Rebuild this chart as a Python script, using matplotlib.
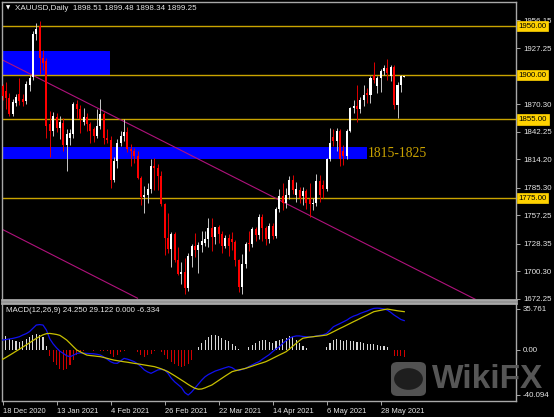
import matplotlib
matplotlib.use("Agg")
import matplotlib.pyplot as plt
import matplotlib.transforms as mtrans
from matplotlib.patches import Rectangle, FancyBboxPatch, Circle

# ---------------- data ----------------
opens = [1889, 1884, 1877, 1861, 1872, 1881, 1876, 1874, 1890, 1898,
         1942, 1950, 1918, 1914, 1850, 1843, 1857, 1846, 1851, 1829,
         1836, 1840, 1871, 1866, 1852, 1857, 1850, 1845, 1838, 1848,
         1860, 1836, 1834, 1793, 1813, 1831, 1838, 1842, 1825, 1823,
         1818, 1795, 1776, 1778, 1784, 1808, 1806, 1797, 1769, 1734,
         1723, 1738, 1712, 1698, 1700, 1683, 1716, 1726, 1722, 1727,
         1729, 1733, 1744, 1735, 1745, 1738, 1726, 1734, 1733, 1730,
         1712, 1684, 1708, 1729, 1728, 1743, 1737, 1756, 1744, 1733,
         1747, 1736, 1764, 1777, 1770, 1778, 1793, 1778, 1783, 1777,
         1782, 1774, 1769, 1770, 1792, 1788, 1784, 1815, 1837, 1833,
         1843, 1823, 1818, 1843, 1867, 1869, 1866, 1875, 1882, 1880,
         1900, 1889, 1897, 1904, 1907, 1899, 1908, 1870, 1890, 1898.51]
highs = [1891, 1893, 1882, 1876, 1881, 1897, 1881, 1894, 1900, 1945,
         1953, 1955, 1926, 1917, 1864, 1863, 1862, 1858, 1856, 1845,
         1845, 1873, 1875, 1870, 1867, 1862, 1852, 1847, 1866, 1876,
         1863, 1845, 1838, 1817, 1835, 1843, 1855, 1847, 1830, 1826,
         1823, 1797, 1787, 1790, 1815, 1816, 1810, 1802, 1770, 1760,
         1740, 1740, 1725, 1710, 1714, 1719, 1728, 1739, 1730, 1741,
         1741, 1755, 1755, 1746, 1748, 1741, 1737, 1738, 1740, 1732,
         1713, 1718, 1730, 1741, 1745, 1745, 1759, 1759, 1747, 1750,
         1750, 1766, 1784, 1790, 1785, 1797, 1798, 1791, 1786, 1786,
         1784, 1790, 1775, 1799, 1798, 1793, 1816, 1846, 1845, 1846,
         1845, 1829, 1845, 1868, 1875, 1890, 1878, 1890, 1887, 1899,
         1913, 1899, 1906, 1910, 1916, 1910, 1910, 1893, 1900, 1899.48]
lows = [1875, 1866, 1858, 1858, 1869, 1870, 1869, 1871, 1884, 1895,
        1936, 1901, 1905, 1836, 1817, 1838, 1842, 1835, 1823, 1803,
        1829, 1836, 1856, 1841, 1849, 1843, 1831, 1832, 1836, 1845,
        1830, 1831, 1785, 1791, 1806, 1828, 1833, 1822, 1808, 1811,
        1794, 1768, 1760, 1770, 1780, 1783, 1783, 1767, 1717, 1719,
        1705, 1710, 1697, 1687, 1677, 1680, 1705, 1715, 1699, 1720,
        1726, 1725, 1721, 1728, 1729, 1719, 1724, 1716, 1722, 1706,
        1679, 1677, 1704, 1721, 1725, 1731, 1733, 1731, 1727, 1729,
        1733, 1734, 1761, 1763, 1765, 1774, 1779, 1771, 1770, 1768,
        1764, 1756, 1763, 1767, 1771, 1775, 1782, 1813, 1828, 1823,
        1808, 1809, 1815, 1842, 1862, 1852, 1862, 1869, 1872, 1872,
        1892, 1882, 1883, 1900, 1895, 1894, 1866, 1856, 1883, 1898.34]
closes = [1879, 1877, 1861, 1873, 1878, 1874, 1873, 1891, 1897, 1942,
          1947, 1918, 1912, 1848, 1843, 1858, 1846, 1852, 1829, 1840,
          1841, 1871, 1866, 1855, 1857, 1850, 1843, 1838, 1848, 1860,
          1836, 1834, 1793, 1813, 1831, 1838, 1842, 1825, 1823, 1818,
          1795, 1776, 1778, 1784, 1808, 1806, 1797, 1769, 1734, 1723,
          1738, 1712, 1698, 1700, 1683, 1716, 1726, 1722, 1727, 1731,
          1733, 1744, 1735, 1745, 1738, 1726, 1734, 1726, 1730, 1712,
          1684, 1708, 1728, 1728, 1743, 1737, 1756, 1744, 1733, 1747,
          1736, 1764, 1777, 1770, 1778, 1793, 1783, 1784, 1775, 1782,
          1770, 1769, 1770, 1792, 1778, 1784, 1815, 1831, 1833, 1843,
          1815, 1818, 1843, 1867, 1869, 1866, 1875, 1880, 1880, 1897,
          1895, 1897, 1904, 1907, 1902, 1908, 1870, 1890, 1899, 1899.25]

macd_main = [8.4, 8.8, 9.3, 9.8, 10.5, 11.3, 12.8, 14.0, 15.8, 18.7,
             21.6, 22.0, 21.6, 17.2, 9.5, 5.0, 1.5, -1.5, -3.4, -5.5,
             -6.3, -5.0, -3.4, -3.0, -3.2, -3.4, -3.6, -3.8, -4.2, -4.9,
             -6.5, -8.5, -10.7, -12.0, -12.2, -10.0, -7.8, -8.5, -9.5, -10.7,
             -12.5, -15.0, -18.0, -19.8, -21.0, -19.5, -18.0, -17.5, -18.0, -21.0,
             -25.3, -28.5, -31.0, -33.5, -38.0, -40.1, -37.5, -34.0, -30.5, -27.0,
             -24.0, -22.0, -20.5, -19.0, -18.0, -17.0, -16.0, -15.1, -16.0, -18.0,
             -18.5, -17.5, -16.6, -15.0, -13.5, -12.0, -10.7, -8.5, -6.5, -4.5,
             -1.9, 0.5, 2.5, 5.4, 7.8, 10.0, 11.3, 12.0, 12.0, 11.5,
             11.3, 11.0, 11.3, 12.0, 12.5, 13.0, 14.2, 17.0, 20.1, 21.6,
             23.0, 24.5, 26.0, 28.0, 29.5, 30.5, 31.9, 33.0, 34.0, 35.3,
             36.3, 36.5, 36.3, 35.8, 34.8, 32.8, 30.4, 28.5, 26.5, 25.5]
macd_signal = [-8.7, -7.0, -5.2, -3.4, -1.5, 0.3, 2.2, 4.0, 5.9, 7.9,
               9.8, 11.5, 13.0, 14.0, 14.2, 13.8, 13.3, 12.5, 10.5, 8.4,
               5.5, 2.5, -0.4, -2.0, -3.5, -4.9, -5.3, -5.6, -6.0, -6.3,
               -7.0, -7.8, -8.6, -9.3, -9.8, -10.3, -10.8, -11.2, -11.7, -12.2,
               -12.6, -13.1, -13.6, -14.1, -14.6, -15.1, -16.0, -17.0, -18.2, -19.5,
               -21.3, -23.1, -25.0, -26.9, -28.8, -30.8, -32.6, -34.2, -35.0, -34.8,
               -33.8, -32.5, -31.3, -29.3, -27.3, -25.3, -23.3, -21.4, -19.5, -18.7,
               -18.0, -17.3, -16.6, -15.6, -14.6, -13.6, -12.6, -11.7, -10.7, -9.3,
               -7.8, -6.3, -4.8, -3.4, -1.9, 0.5, 3.0, 5.5, 8.0, 10.0,
               10.5, 11.0, 11.3, 11.7, 12.0, 12.4, 12.8, 14.2, 15.7, 17.2,
               18.7, 20.1, 21.6, 23.1, 24.6, 26.0, 27.5, 29.0, 30.4, 31.9,
               33.4, 34.0, 34.6, 35.2, 35.7, 35.2, 34.7, 34.2, 33.8, 33.4]
macd_hist = [11.8, 11.8, 9.7, 8.8, 7.6, 6.8, 7.6, 9.7, 11.2, 12.6,
             14.0, 12.6, 11.2, 3.0, -6.0, -11.0, -14.0, -17.0, -18.0, -17.0,
             -14.0, -9.4, -5.0, -2.0, -1.0, -0.3, 0.0, -1.0, -0.5, -1.0,
             -1.0, -1.0, -3.5, -6.5, -5.0, -2.0, -1.0, -0.3, 0.0, 0.0,
             -2.0, -5.0, -6.5, -5.0, -3.5, -1.0, 0.0, -2.0, -5.0, -8.0,
             -11.0, -12.4, -14.7, -15.3, -14.7, -12.4, -8.8, 0.0, 2.4, 5.9,
             8.2, 11.2, 12.4, 12.6, 12.0, 10.6, 8.8, 7.6, 5.3, 2.9,
             0.9, -0.5, -0.8, 1.8, 3.8, 5.9, 7.6, 8.8, 8.2, 6.8,
             5.9, 7.6, 8.8, 9.7, 10.6, 11.8, 11.2, 8.8, 5.9, 2.9,
             1.2, 0.0, -0.5, 0.0, 0.0, -0.5, 2.4, 5.9, 8.2, 9.7,
             8.2, 7.6, 8.2, 7.6, 7.6, 7.0, 6.5, 5.9, 5.3, 5.3,
             4.7, 4.1, 3.5, 2.9, 1.8, 0.0, -5.9, -5.9, -5.9, -6.334]

date_labels = ["18 Dec 2020", "13 Jan 2021", "4 Feb 2021", "26 Feb 2021",
               "22 Mar 2021", "14 Apr 2021", "6 May 2021", "28 May 2021"]
date_label_idx = [0, 16, 32, 48, 64, 80, 96, 112]

level_prices = [1950.00, 1900.00, 1855.00, 1775.00]
zone_low = [1900.0, 1814.5]
zone_high = [1924.5, 1827.0]
zone_end_idx = [31.9, 108.0]
zone_text = "1815-1825"

upper_line_idx = [0, 140]
upper_line_price = [1915.5, 1672.0]
lower_line_idx = [0, 40]
lower_line_price = [1743.0, 1673.0]

price_ticks = [1956.15, 1927.25, 1870.30, 1842.25, 1814.20, 1785.30,
               1757.25, 1728.35, 1700.30, 1672.25]
macd_ticks = [35.761, 0.0, -40.094]
macd_tick_labels = ["35.761", "0.00", "-40.094"]

title_text = "XAUUSD,Daily  1898.51 1899.48 1898.34 1899.25"
macd_text = "MACD(12,26,9) 24.250 29.122 0.000 -6.334"

# ---------------- figure ----------------
W, H = 554, 417
fig = plt.figure(figsize=(W / 100, H / 100), dpi=100, facecolor="black")
FONT = "Liberation Sans"
GRAY = "#A8A8A8"
TXT = "#E6E6E6"

def fx(px):
    return px / W

def fy(py):
    return 1 - py / H

ax = fig.add_axes([fx(2), fy(300), fx(516 - 2), fy(2) - fy(300)], facecolor="black")
ax2 = fig.add_axes([fx(2), fy(401), fx(516 - 2), fy(303) - fy(401)], facecolor="black")

n = len(closes)
idx = list(range(n))
xlim = (-0.15, 152.1)

# zones (behind candles)
for lo, hi, xe in zip(zone_low, zone_high, zone_end_idx):
    ax.add_patch(Rectangle((xlim[0] - 1, lo), xe - xlim[0] + 1, hi - lo,
                           facecolor="#0000FF", edgecolor="none", zorder=1))
ax.text(zone_end_idx[1] + 0.3, (zone_low[1] + zone_high[1]) / 2, zone_text,
        color="#C9A200", fontsize=9.8, family="Liberation Serif",
        va="center", ha="left", zorder=6)

# horizontal levels
for lv in level_prices:
    ax.axhline(lv, color="#C9A400", lw=1.0, zorder=2)

# channel lines
ax.plot(upper_line_idx, upper_line_price, color="#B0127C", lw=0.8, zorder=2)
ax.plot(lower_line_idx, lower_line_price, color="#B0127C", lw=0.8, zorder=2)

# candles
for i in idx:
    o, h, l, c = opens[i], highs[i], lows[i], closes[i]
    up = c >= o
    col = "#FFFFFF" if up else "#FF0000"
    wcol = "#C8C8C8" if up else "#E00000"
    ax.vlines(i, l, h, color=wcol, lw=0.7, zorder=3)
    bh = max(abs(c - o), 0.9)
    ax.bar(i, bh, bottom=min(o, c), width=0.6, color=col, linewidth=0, zorder=4)

ax.set_xlim(*xlim)
ax.set_ylim(1671.2, 1974.5)

# MACD
hcols = ["#D8D8D8" if v >= 0 else "#D00000" for v in macd_hist]
ax2.bar(idx, macd_hist, width=0.32, color=hcols, linewidth=0, zorder=2)
ax2.plot(idx, macd_main, color="#1010F0", lw=0.9, zorder=3)
ax2.plot(idx, macd_signal, color="#C8C000", lw=0.9, zorder=3)
ax2.set_xlim(*xlim)
ax2.set_ylim(-45.4, 41.05)

# spines / ticks
for a in (ax, ax2):
    for s in a.spines.values():
        s.set_color(GRAY)
        s.set_linewidth(1.0)
    a.yaxis.tick_right()
    a.tick_params(axis="y", colors=GRAY, length=3, width=0.7, pad=2,
                  labelsize=5.7, labelcolor=TXT)
    for t in a.get_yticklabels():
        t.set_family(FONT)
ax.spines["bottom"].set_linewidth(2.0)
ax2.spines["top"].set_linewidth(2.0)

ax.set_xticks([])
ax.set_yticks(price_ticks)
ax.set_yticklabels([f"{p:.2f}" for p in price_ticks], family=FONT)

ax2.set_yticks(macd_ticks)
ax2.set_yticklabels(macd_tick_labels, family=FONT)
ax2.set_xticks(date_label_idx)
ax2.set_xticklabels(date_labels, ha="left", family=FONT)
ax2.tick_params(axis="x", colors=GRAY, length=3, width=0.7, pad=2,
                labelsize=5.4, labelcolor=TXT)

# highlighted level labels
btr = mtrans.blended_transform_factory(ax.transAxes, ax.transData)
for lv in level_prices:
    ax.text(1.0 + 2.5 / 514, lv, f"{lv:.2f}", transform=btr, ha="left", va="center",
            fontsize=5.7, family=FONT, color="black", zorder=10, clip_on=False,
            bbox=dict(boxstyle="square,pad=0.22", fc="#FFD200", ec="#FFD200", lw=0.5))

# titles
fig.text(fx(6), fy(8), "\u25BC", color="white", fontsize=4, ha="left", va="center",
         family="DejaVu Sans")
fig.text(fx(15), fy(8), title_text, color=TXT, fontsize=5.8, ha="left", va="center",
         family=FONT)
fig.text(fx(6), fy(311), macd_text, color=TXT, fontsize=5.7, ha="left", va="center",
         family=FONT, zorder=10)

# watermark
logo = FancyBboxPatch((fx(391), fy(396)), fx(35), fy(362) - fy(396),
                      boxstyle="round,pad=0,rounding_size=0.012",
                      transform=fig.transFigure, facecolor="#5C5C5C",
                      edgecolor="none", alpha=0.9, zorder=20)
fig.patches.append(logo)
fig.patches.append(Circle((fx(408.5), fy(379)), 0.026, transform=fig.transFigure,
                          facecolor="#1E1E1E", edgecolor="none", zorder=21))
fig.text(fx(432), fy(380), "WikiFX", color="#5C5C5C", fontsize=24, fontweight="bold",
         family=FONT, ha="left", va="center", alpha=0.95, zorder=22)

fig.savefig("out.png", dpi=100, facecolor="black")
